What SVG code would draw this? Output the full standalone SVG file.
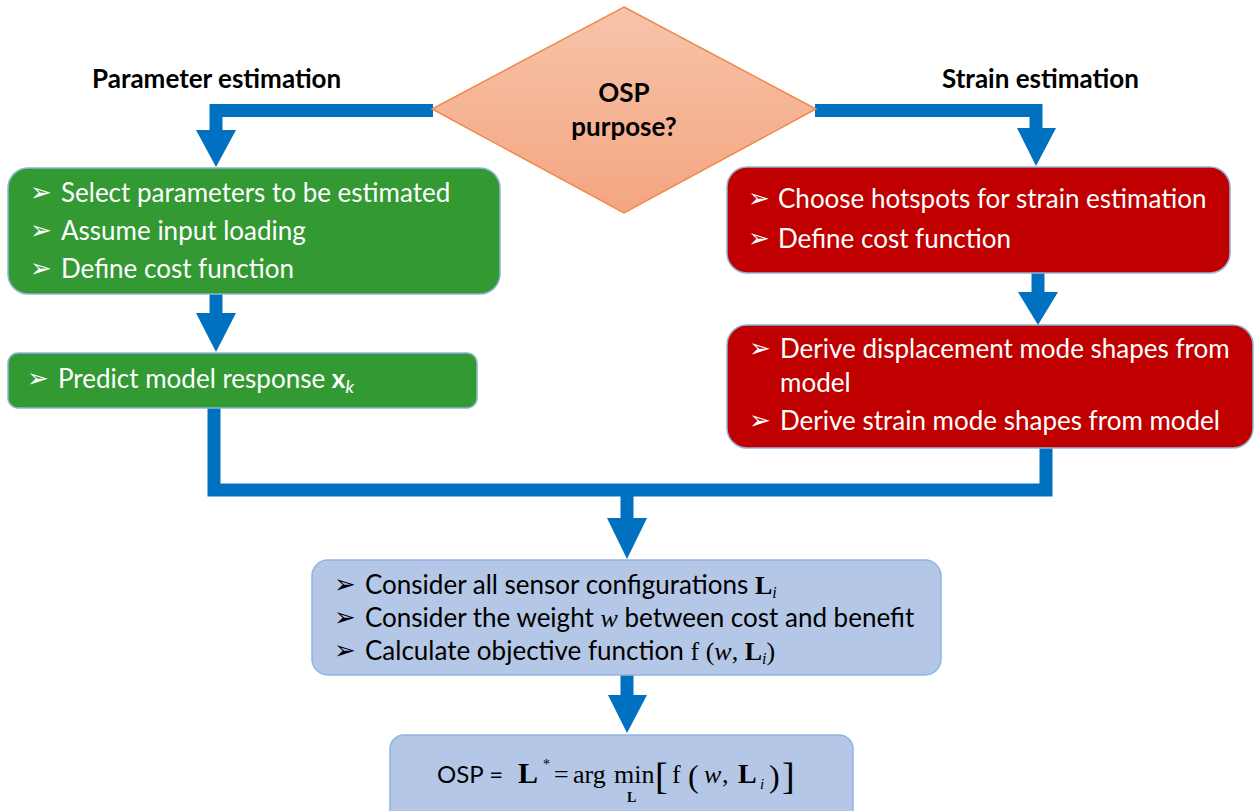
<svg xmlns="http://www.w3.org/2000/svg" width="1254" height="811" viewBox="0 0 1254 811">
<defs>
<linearGradient id="dg" x1="0" y1="0" x2="0" y2="1">
<stop offset="0" stop-color="#f7c4aa"/>
<stop offset="1" stop-color="#f4a580"/>
</linearGradient>
<style>
.t{font-family:Lato,"Open Sans","Liberation Sans",sans-serif;font-size:26px;}
.w{fill:#ffffff;}
.k{fill:#000000;}
.h{font-family:Lato,"Open Sans","Liberation Sans",sans-serif;font-size:26px;font-weight:bold;fill:#000;}
.b{font-family:"DejaVu Sans",sans-serif;font-size:26px;}
.m{font-family:"Liberation Serif","Times New Roman",serif;}
.conn{fill:none;stroke:#0070c0;stroke-width:13;}
.head{fill:#0070c0;}
.gb{fill:#339933;stroke:#8fb4d8;stroke-width:1.5;}
.rb{fill:#c00000;stroke:#8fb4d8;stroke-width:1.5;}
.bb{fill:#b4c7e7;stroke:#8eb4e3;stroke-width:1.5;}
</style>
</defs>
<rect width="1254" height="811" fill="#ffffff"/>

<g id="connectors">
<polyline class="conn" points="433,110.5 216,110.5 216,132"/>
<polygon class="head" points="196,130 236,130 216,167"/>
<polyline class="conn" points="815,110.5 1036,110.5 1036,130"/>
<polygon class="head" points="1017,128 1056,128 1036,166"/>
<polyline class="conn" points="216,294 216,315"/>
<polygon class="head" points="196,313 236,313 216,352"/>
<polyline class="conn" points="1038,273 1038,294"/>
<polygon class="head" points="1018,292 1058,292 1038,325"/>
<polyline class="conn" points="214,408 214,490 1046,490 1046,448"/>
<polyline class="conn" points="627,490 627,520"/>
<polygon class="head" points="607,518 647,518 627,559"/>
<polyline class="conn" points="627,675 627,697"/>
<polygon class="head" points="608,695 647,695 627,733"/>
</g>

<g id="label-param">
<text class="h" x="92" y="88">Parameter estimation</text>
</g>
<g id="label-strain">
<text class="h" x="942" y="88">Strain estimation</text>
</g>

<g id="decision">
<polygon points="624,7 816,109 624,213 432,109" fill="url(#dg)" stroke="#f08a4b" stroke-width="1.5"/>
<text class="h" x="624" y="102" text-anchor="middle">OSP</text>
<text class="h" x="624" y="136" text-anchor="middle">purpose?</text>
</g>

<g id="param-setup">
<rect class="gb" x="8" y="168" width="492" height="126" rx="20"/>
<text class="b w" x="30" y="201">➢</text>
<text class="t w" x="61" y="202">Select parameters to be estimated</text>
<text class="b w" x="30" y="239">➢</text>
<text class="t w" x="61" y="240">Assume input loading</text>
<text class="b w" x="30" y="277">➢</text>
<text class="t w" x="61" y="278">Define cost function</text>
</g>

<g id="predict">
<rect class="gb" x="8" y="353" width="469" height="55" rx="10"/>
<text class="b w" x="27" y="387">➢</text>
<text class="t w" x="58" y="388">Predict model response <tspan font-weight="bold">x</tspan><tspan font-style="italic" style="font-size:18px" dy="5">k</tspan></text>
</g>

<g id="strain-setup">
<rect class="rb" x="727" y="167" width="503" height="106" rx="20"/>
<text class="b w" x="748" y="207">➢</text>
<text class="t w" x="778" y="208">Choose hotspots for strain estimation</text>
<text class="b w" x="748" y="247">➢</text>
<text class="t w" x="778" y="248">Define cost function</text>
</g>

<g id="modeshapes">
<rect class="rb" x="727" y="325" width="526" height="123" rx="20"/>
<text class="b w" x="749" y="357">➢</text>
<text class="t w" x="780" y="358">Derive displacement mode shapes from</text>
<text class="t w" x="780" y="392">model</text>
<text class="b w" x="749" y="429">➢</text>
<text class="t w" x="780" y="430">Derive strain mode shapes from model</text>
</g>

<g id="objective">
<rect class="bb" x="312" y="560" width="629" height="115" rx="16"/>
<text class="b k" x="334" y="593">➢</text>
<text class="t k" x="365" y="594">Consider all sensor configurations <tspan class="m" font-weight="bold">L</tspan><tspan class="m" font-style="italic" style="font-size:16px" dy="4">i</tspan></text>
<text class="b k" x="334" y="626">➢</text>
<text class="t k" x="365" y="627">Consider the weight <tspan class="m" font-style="italic">w</tspan> between cost and benefit</text>
<text class="b k" x="334" y="659">➢</text>
<text class="t k" x="365" y="660">Calculate objective function <tspan class="m">f (</tspan><tspan class="m" font-style="italic">w</tspan><tspan class="m">, </tspan><tspan class="m" font-weight="bold">L</tspan><tspan class="m" font-style="italic" style="font-size:16px" dy="4">i</tspan><tspan class="m" dy="-4">)</tspan></text>
</g>

<g id="result">
<rect class="bb" x="390" y="735" width="463" height="90" rx="14"/>
<text class="t k" x="437" y="783" style="font-size:24px">OSP =</text>
<text class="m k" x="518" y="783" font-size="30" font-weight="bold">L</text>
<text class="m k" x="543" y="769" font-size="14">*</text>
<text class="m k" x="554" y="783" font-size="26">=</text>
<text class="m k" x="573" y="783" font-size="26">arg</text>
<text class="m k" x="614" y="783" font-size="26">min</text>
<text class="m k" x="627" y="802" font-size="14" font-weight="bold">L</text>
<text class="m k" x="655" y="789" font-size="38">[</text>
<text class="m k" x="672" y="783" font-size="26">f</text>
<text class="m k" x="688" y="787" font-size="32">(</text>
<text class="m k" x="704" y="783" font-size="26" font-style="italic">w</text>
<text class="m k" x="722" y="783" font-size="26">,</text>
<text class="m k" x="738" y="783" font-size="28" font-weight="bold">L</text>
<text class="m k" x="760" y="789" font-size="15" font-style="italic">i</text>
<text class="m k" x="769" y="787" font-size="32">)</text>
<text class="m k" x="782" y="789" font-size="38">]</text>
</g>
</svg>
